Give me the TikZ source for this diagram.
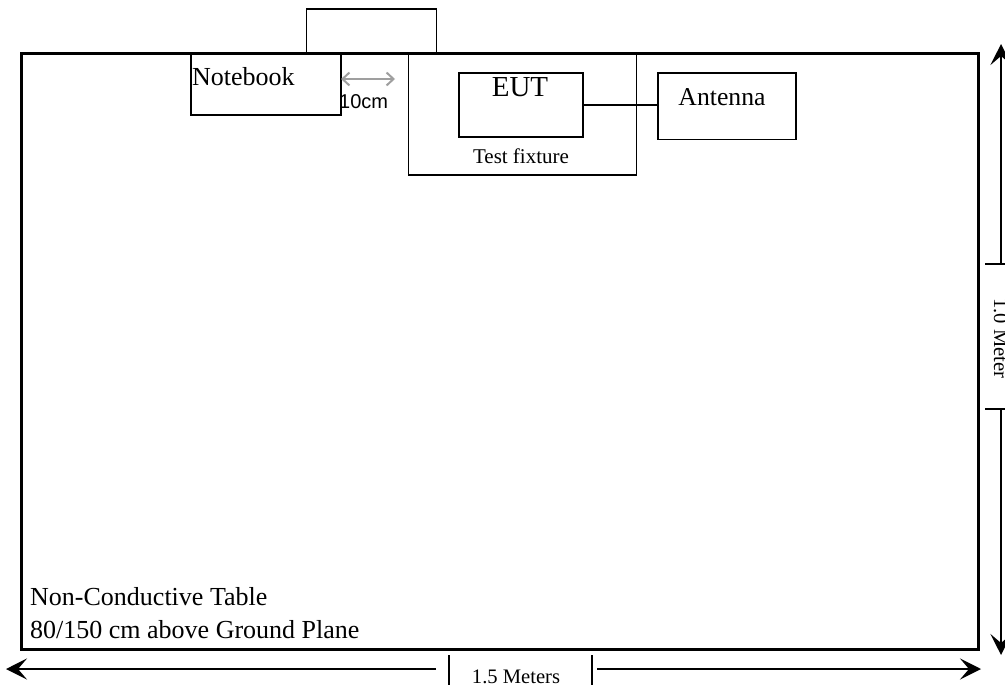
\documentclass[tikz,border=0pt]{standalone}
\usepackage{fontspec}
\setmainfont{Liberation Serif}
\newfontfamily\arialfont{Liberation Sans}
\usetikzlibrary{arrows.meta}
\begin{document}
\begin{tikzpicture}[x=1pt,y=-1pt,
  box/.style={draw, line width=1.6pt, inner sep=0pt, anchor=north west},
  lbl/.style={inner sep=0pt, anchor=base},
  dimline/.style={line width=1.8pt},
  dimtip/.style={-{Stealth[length=21pt,width=21pt,inset=9pt]}},
  tick/.style={line width=1.4pt},
]
\useasboundingbox (0,0) rectangle (1005,685);

% table
\node[box, line width=3pt, minimum width=957pt, minimum height=596pt] (table) at (20,52) {};
% boxes
\node[box, minimum width=130pt, minimum height=44pt] (top) at (305.5,8) {};
\node[box, minimum width=150pt, minimum height=62pt] (nb) at (190,52) {};
\node[box, minimum width=228pt, minimum height=122pt] (fix) at (407.5,52) {};
\node[box, minimum width=124pt, minimum height=64pt] (eut) at (458,72) {};
\node[box, minimum width=138pt, minimum height=66pt] (ant) at (657,72.5) {};

% texts
\node[inner sep=0pt, anchor=base west, font=\fontsize{26}{30}\selectfont] (nbt) at (192,86) {Notebook};
\node[lbl, font=\fontsize{29}{33}\selectfont] (eutt) at (520,97) {EUT};
\node[lbl, font=\fontsize{21}{25}\selectfont] (fixt) at (521,164) {Test fixture};
\node[lbl, font=\fontsize{25.7}{30}\selectfont] (antt) at (722,106) {Antenna};
\node[inner sep=0pt, anchor=base west, font=\arialfont\fontsize{20}{24}\selectfont] (cm) at (339,109) {10cm};
\node[inner sep=0pt, anchor=base west, font=\fontsize{26}{30}\selectfont] (tab1) at (30,605) {Non-Conductive Table};
\node[inner sep=0pt, anchor=base west, font=\fontsize{26}{30}\selectfont] (tab2) at (30,638) {80/150 cm above Ground Plane};

% EUT to antenna
\draw[line width=1.6pt] (eut.east) -- (eut.east -| ant.west);

% 10cm gray arrow
\coordinate (g1) at (341,79);
\coordinate (g2) at (395,79);
\draw[gray!75, line width=2pt, {Straight Barb[length=7pt,width=13pt]}-{Straight Barb[length=7pt,width=13pt]}] (g1) -- (g2);

% bottom dimension
\coordinate (bl) at (6,669);
\coordinate (bl2) at (436,669);
\coordinate (br2) at (597,669);
\coordinate (br) at (981,669);
\coordinate (tb1a) at (449,655); \coordinate (tb1b) at (449,690);
\coordinate (tb2a) at (592,655); \coordinate (tb2b) at (592,690);
\draw[dimline, dimtip] (bl2) -- (bl);
\draw[dimline, dimtip] (br2) -- (br);
\draw[tick] (tb1a) -- (tb1b);
\draw[tick] (tb2a) -- (tb2b);
\node[lbl, font=\fontsize{20.6}{24}\selectfont] (wlbl) at (516,683) {1.5 Meters};

% right dimension
\coordinate (rt) at (1001,44);
\coordinate (rt2) at (1001,264);
\coordinate (rb2) at (1001,409);
\coordinate (rb) at (1001,655);
\coordinate (tr1a) at (985,264); \coordinate (tr1b) at (1010,264);
\coordinate (tr2a) at (985,409); \coordinate (tr2b) at (1010,409);
\draw[dimline, dimtip] (rt2) -- (rt);
\draw[dimline, dimtip] (rb2) -- (rb);
\draw[tick] (tr1a) -- (tr1b);
\draw[tick] (tr2a) -- (tr2b);
\node[inner sep=0pt, anchor=base west, rotate=-90, font=\fontsize{20.6}{24}\selectfont] (hlbl) at (994,298) {1.0 Meter};
\end{tikzpicture}
\end{document}
